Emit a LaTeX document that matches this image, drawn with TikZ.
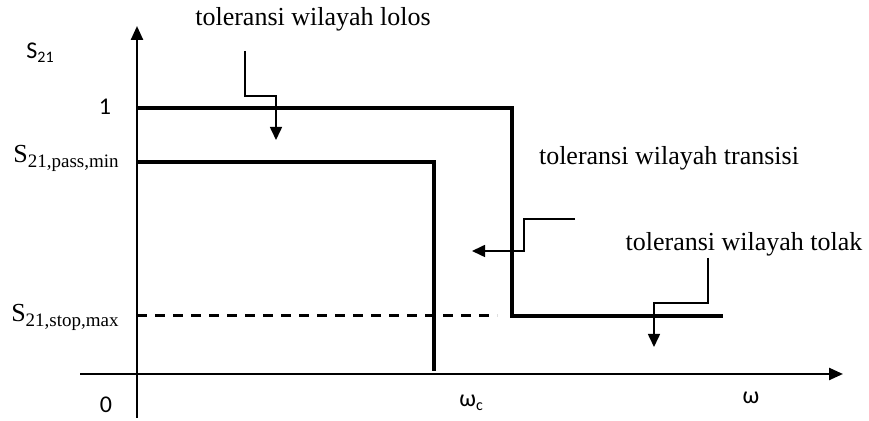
\documentclass[tikz,border=0pt]{standalone}
\usepackage{fontspec}
\setmainfont{Liberation Serif}
\newfontfamily\calib{Carlito}
\usetikzlibrary{arrows.meta}
\begin{document}
\begin{tikzpicture}[x=0.5pt,y=-0.5pt,
  axis/.style={line width=1.2pt,-{Triangle[length=7pt,width=6pt]}},
  resp/.style={line width=2.3pt},
  leader/.style={line width=0.8pt,-{Triangle[length=6.5pt,width=6pt]}},
  lbl/.style={inner sep=0pt,font=\fontsize{13}{15}\selectfont},
  slbl/.style={inner sep=0pt,font=\calib\fontsize{12}{14}\selectfont}]
\useasboundingbox (0,0) rectangle (869,421);
% axes
\coordinate (yb) at (137,418);
\coordinate (yt) at (137,26);
\coordinate (xl) at (80,374);
\coordinate (xr) at (843,374);
\draw[axis] (yb) -- (yt);
\draw[axis] (xl) -- (xr);
% responses
\coordinate (a1) at (137,108);
\coordinate (a2) at (512,108);
\coordinate (a3) at (512,316);
\coordinate (a4) at (723,316);
\draw[resp] (a1) -- (a2) -- (a3) -- (a4);
\coordinate (b1) at (137,162);
\coordinate (b2) at (434,162);
\coordinate (b3) at (434,371);
\draw[resp] (b1) -- (b2) -- (b3);
\coordinate (d1) at (137,316);
\coordinate (d2) at (497,316);
\draw[line width=1.5pt,dash pattern=on 5pt off 4pt] (d1) -- (d2);
% labels
\node[lbl,anchor=base] (tlolos) at (313,26) {toleransi wilayah lolos};
\node[lbl,anchor=base] (ttrans) at (669,165) {toleransi wilayah transisi};
\node[lbl,anchor=base] (ttolak) at (744,251) {toleransi wilayah tolak};
\node[lbl,anchor=base east] (spass) at (120,163) {S\textsubscript{\fontsize{9.5}{11}\selectfont 21,pass,min}};
\node[lbl,anchor=base east] (sstop) at (120,322) {S\textsubscript{\fontsize{9.5}{11}\selectfont 21,stop,max}};
\node[slbl,anchor=base west] (s21) at (26,59) {S\textsubscript{21}};
\node[slbl,anchor=base] (one) at (105,115) {1};
\node[slbl,anchor=base] (zero) at (106,413) {0};
\node[slbl,anchor=base west] (wc) at (459,407) {ω\textsubscript{c}};
\node[slbl,anchor=base] (w) at (751,404) {ω};
% leaders
\coordinate (l1) at (245,51);
\coordinate (l2) at (245,96);
\coordinate (l3) at (276,96);
\coordinate (l4) at (276,140);
\draw[leader] (l1) -- (l2) -- (l3) -- (l4);
\coordinate (t1) at (575,219);
\coordinate (t2) at (524,219);
\coordinate (t3) at (524,251);
\coordinate (t4) at (472,251);
\draw[leader] (t1) -- (t2) -- (t3) -- (t4);
\coordinate (k1) at (708,258);
\coordinate (k2) at (708,303);
\coordinate (k3) at (654,303);
\coordinate (k4) at (654,347);
\draw[leader] (k1) -- (k2) -- (k3) -- (k4);
\end{tikzpicture}
\end{document}
